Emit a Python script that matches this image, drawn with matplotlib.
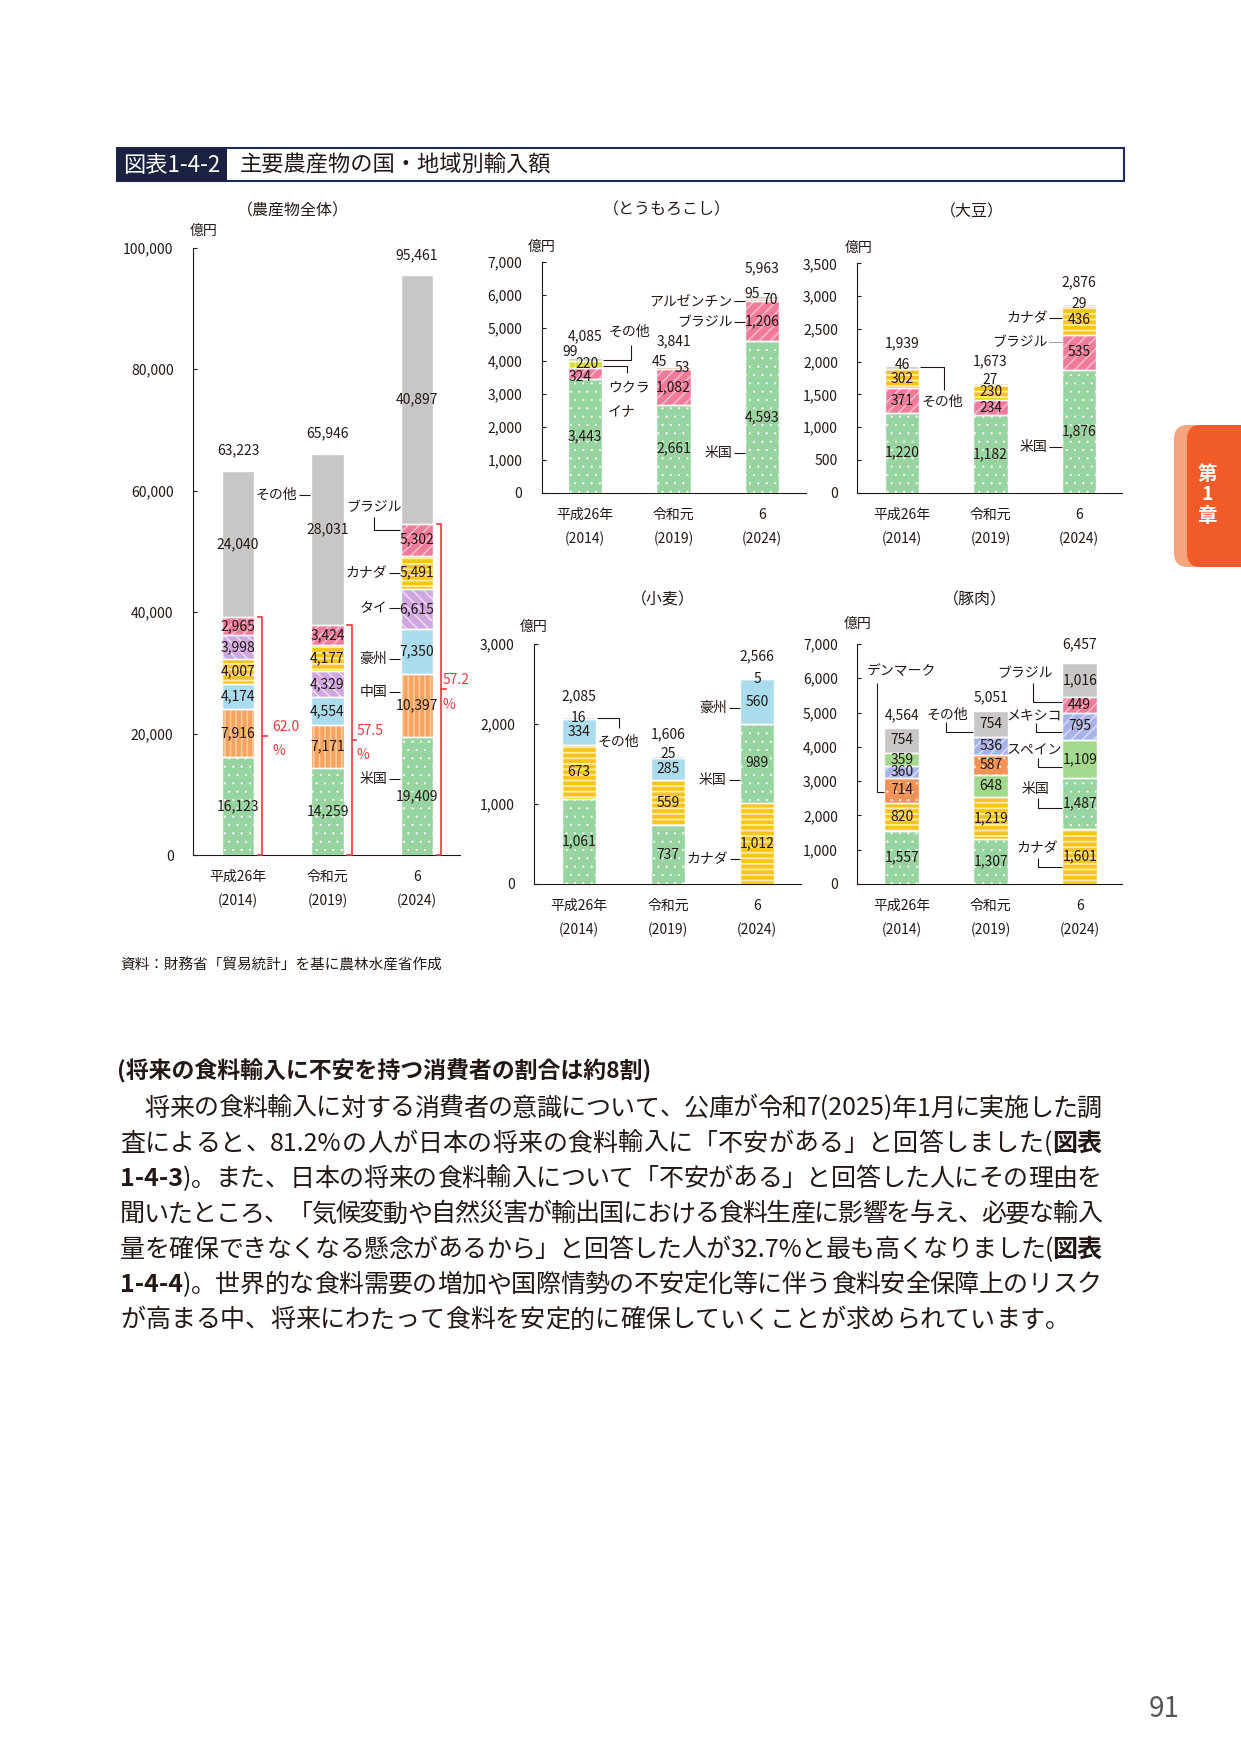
import numpy as np
import matplotlib as mpl
import matplotlib.pyplot as plt
from matplotlib.patches import Rectangle, FancyBboxPatch

plt.rcParams['font.family'] = ['Noto Sans CJK JP', 'DejaVu Sans']
plt.rcParams['hatch.linewidth'] = 1.3

W, H = 1241, 1754
INK = '#231815'
RED = '#e8383d'

years = ["平成26年", "令和元", "6"]
years_w = ["(2014)", "(2019)", "(2024)"]

# 農産物全体
all_countries = [["米国", "中国", "豪州", "カナダ", "タイ", "ブラジル", "その他"],
                 ["米国", "中国", "豪州", "タイ", "カナダ", "ブラジル", "その他"],
                 ["米国", "中国", "豪州", "タイ", "カナダ", "ブラジル", "その他"]]
all_values = [[16123, 7916, 4174, 4007, 3998, 2965, 24040],
              [14259, 7171, 4554, 4329, 4177, 3424, 28031],
              [19409, 10397, 7350, 6615, 5491, 5302, 40897]]
all_totals = [63223, 65946, 95461]

# とうもろこし
corn_countries = [["米国", "ブラジル", "ウクライナ", "その他"],
                  ["米国", "ブラジル", "アルゼンチン", "その他"],
                  ["米国", "ブラジル", "アルゼンチン", "その他"]]
corn_values = [[3443, 324, 220, 99],
               [2661, 1082, 53, 45],
               [4593, 1206, 70, 95]]
corn_totals = [4085, 3841, 5963]

# 大豆
soy_countries = [["米国", "ブラジル", "カナダ", "その他"]] * 3
soy_values = [[1220, 371, 302, 46],
              [1182, 234, 230, 27],
              [1876, 535, 436, 29]]
soy_totals = [1939, 1673, 2876]

# 小麦
wheat_countries = [["米国", "カナダ", "豪州", "その他"],
                   ["米国", "カナダ", "豪州", "その他"],
                   ["カナダ", "米国", "豪州", "その他"]]
wheat_values = [[1061, 673, 334, 16],
                [737, 559, 285, 25],
                [1012, 989, 560, 5]]
wheat_totals = [2085, 1606, 2566]

# 豚肉
pork_countries = [["米国", "カナダ", "デンマーク", "メキシコ", "スペイン", "その他"],
                  ["米国", "カナダ", "スペイン", "デンマーク", "メキシコ", "その他"],
                  ["カナダ", "米国", "スペイン", "メキシコ", "ブラジル", "その他"]]
pork_values = [[1557, 820, 714, 360, 359, 754],
               [1307, 1219, 648, 587, 536, 754],
               [1601, 1487, 1109, 795, 449, 1016]]
pork_totals = [4564, 5051, 6457]

# face colour, hatch colour, hatch, hatch width
STYLE = {
    "米国": ("#97d4a0", "white", "..", 0.3),
    "中国": ("#f5a35e", "#f9c896", "|||", 1.3),
    "豪州": ("#abdcee", None, None, 0),
    "カナダ": ("#f8c31c", "#fdeea0", "---", 1.3),
    "タイ": ("#cfa6df", "#ead8f2", "\\\\\\", 1.2),
    "ブラジル": ("#f07a9a", "#f8b8ca", "///", 1.2),
    "その他": ("#c8c7c5", None, None, 0),
    "ウクライナ": ("#d2dc3a", "#f5e663", "|||", 1.3),
    "アルゼンチン": ("#f08a4b", None, None, 0),
    "デンマーク": ("#f39256", "white", "..", 0.3),
    "メキシコ": ("#a7b3e8", "#d3daf6", "///", 1.2),
    "スペイン": ("#a3d98e", None, None, 0),
}

fig = plt.figure(figsize=(W / 100, H / 100), dpi=100)
fig.patch.set_facecolor('white')
bg = fig.add_axes([0, 0, 1, 1], zorder=-1)
bg.set_xlim(0, W)
bg.set_ylim(H, 0)
bg.axis('off')


def make_axes(l, r, b, t, ymax, step, c0, sp):
    ax = fig.add_axes([l / W, 1 - b / H, (r - l) / W, (b - t) / H])
    ax.set_facecolor('none')
    ax.set_xlim((l - c0) / sp, (r - c0) / sp)
    ax.set_ylim(0, ymax)
    ax.set_yticks(np.arange(0, ymax + 1, step))
    ax.yaxis.set_major_formatter(lambda v, p: f"{int(v):,}")
    ax.tick_params(axis='y', direction='in', length=3, width=0.8, pad=14,
                   labelsize=10, labelcolor=INK, color=INK)
    ax.set_xticks([])
    for s in ['top', 'right']:
        ax.spines[s].set_visible(False)
    for s in ['left', 'bottom']:
        ax.spines[s].set_color(INK)
        ax.spines[s].set_linewidth(0.8)
    for i in range(3):
        ax.annotate(years[i], (i, 0), xycoords=('data', 'axes fraction'), xytext=(0, -22),
                    textcoords='offset pixels', ha='center', va='center', fontsize=10, color=INK)
        ax.annotate(years_w[i], (i, 0), xycoords=('data', 'axes fraction'), xytext=(0, -46),
                    textcoords='offset pixels', ha='center', va='center', fontsize=10, color=INK)
    return ax


def stack(ax, countries, values, totals, width, tot_off, moved=None):
    moved = moved or {}
    for i in range(3):
        bottom = 0
        for c, v in zip(countries[i], values[i]):
            face, hcol, hatch, hlw = STYLE[c]
            ax.bar(i, v, width, bottom=bottom, color=face, linewidth=0, zorder=2)
            if hatch:
                with mpl.rc_context({'hatch.linewidth': hlw}):
                    bars = ax.bar(i, v, width, bottom=bottom, facecolor='none', edgecolor=hcol,
                                  linewidth=0, hatch=hatch, zorder=3)
                for p in bars:
                    if hasattr(p, 'set_hatch_linewidth'):
                        p.set_hatch_linewidth(hlw)
            ax.bar(i, v, width, bottom=bottom, facecolor='none', edgecolor='white',
                   linewidth=1.0, zorder=4)
            x, y = moved.get((i, c), (i, bottom + v / 2))
            ax.text(x, y, f"{v:,}", ha='center', va='center', fontsize=10, color=INK, zorder=5)
            bottom += v
        ax.annotate(f"{totals[i]:,}", (i, bottom), xytext=(0, tot_off[i]), textcoords='offset pixels',
                    ha='center', va='center', fontsize=10, color=INK)


def name(ax, x, y, s, ha='center'):
    ax.text(x, y, s, ha=ha, va='center', fontsize=10, color=INK, clip_on=False, zorder=6)


def leader(ax, xs, ys, color=INK):
    ax.plot(xs, ys, color=color, lw=0.8, clip_on=False, zorder=6, solid_capstyle='butt')


def dash_name(ax, xt, xb, y, s, color=INK):
    name(ax, xt, y, s, 'right')
    leader(ax, [xt + 0.02, xb], [y, y], color)


def fig_text(x, y, s, **kw):
    kw.setdefault('color', INK)
    kw.setdefault('va', 'center')
    bg.text(x, y, s, **kw)


# ---- 農産物全体
ax1 = make_axes(193, 460, 855, 247.5, 100000, 20000, 238, 89.5)
stack(ax1, all_countries, all_values, all_totals, 0.36, [21, 21, 20],
      moved={(1, "その他"): (1, 53613)})
name(ax1, 0.66, 59259, "その他", 'right')
leader(ax1, [0.68, 0.81], [59259, 59259])
name(ax1, 1.52, 57284, "ブラジル")
leader(ax1, [1.52, 1.52, 1.81], [55687, 53498, 53498])
for s, y in [("カナダ", 46370), ("タイ", 40609), ("豪州", 32263), ("中国", 26881), ("米国", 12461)]:
    dash_name(ax1, 1.665, 1.81, y, s)
pct_x = [0.38, 0.32, 0.29]
for i in range(3):
    top = sum(all_values[i][:6])
    xb = i + 0.27
    ax1.plot([xb - 0.05, xb, xb, xb - 0.05], [top, top, 0, 0], color=RED, lw=1.2, clip_on=False, zorder=6)
    ax1.plot([xb, xb + 0.05], [top / 2, top / 2], color=RED, lw=1.2, clip_on=False, zorder=6)
    pct = top / sum(all_values[i]) * 100
    ax1.text(i + pct_x[i], top / 2 + 1450, f"{pct:.1f}", color=RED, fontsize=10, ha='left', va='center', clip_on=False)
    ax1.text(i + pct_x[i], top / 2 - 2550, "%", color=RED, fontsize=10, ha='left', va='center', clip_on=False)

# ---- とうもろこし
ax2 = make_axes(541.7, 806, 492.7, 261.7, 7000, 1000, 585, 88.5)
stack(ax2, corn_countries, corn_values, corn_totals, 0.39, [22, 25, 28],
      moved={(0, "その他"): (-0.17, 4273), (0, "ウクライナ"): (0.02, 3891), (0, "ブラジル"): (-0.05, 3515),
             (1, "その他"): (0.84, 3970), (1, "アルゼンチン"): (1.10, 3770),
             (2, "その他"): (1.89, 6021), (2, "アルゼンチン"): (2.09, 5839)})
name(ax2, 0.50, 4879, "その他")
leader(ax2, [0.2, 0.516, 0.516], [4015, 4015, 4476])
name(ax2, 0.26, 3203, "ウクラ", 'left')
name(ax2, 0.26, 2476, "イナ", 'left')
leader(ax2, [0.2, 0.47, 0.47], [3839, 3839, 3636])
for s, y in [("アルゼンチン", 5809), ("ブラジル", 5182), ("米国", 1194)]:
    dash_name(ax2, 1.665, 1.805, y, s)

# ---- 大豆
ax3 = make_axes(857.3, 1122, 492.7, 263.3, 3500, 500, 902, 88.5)
stack(ax3, soy_countries, soy_values, soy_totals, 0.39, [22, 22, 22],
      moved={(0, "その他"): (0, 1948), (1, "その他"): (1, 1720), (2, "その他"): (2, 2879)})
name(ax3, 0.46, 1379, "その他")
leader(ax3, [0.2, 0.475, 0.475], [1913, 1913, 1567])
dash_name(ax3, 1.646, 1.805, 2670, "カナダ")
dash_name(ax3, 1.646, 1.805, 2295, "ブラジル", '#a0a0a0')
dash_name(ax3, 1.646, 1.805, 702, "米国")

# ---- 小麦
ax4 = make_axes(534.3, 801, 884, 644, 3000, 1000, 579, 89)
stack(ax4, wheat_countries, wheat_values, wheat_totals, 0.39, [21, 21, 22],
      moved={(0, "その他"): (0, 2079), (1, "その他"): (1, 1625), (2, "その他"): (2, 2562)})
name(ax4, 0.44, 1779, "その他")
leader(ax4, [0.2, 0.453, 0.453], [2071, 2071, 1954])
dash_name(ax4, 1.66, 1.805, 2196, "豪州")
dash_name(ax4, 1.66, 1.805, 1300, "米国")
dash_name(ax4, 1.68, 1.805, 309, "カナダ")

# ---- 豚肉
ax5 = make_axes(857.3, 1122, 884, 644, 7000, 1000, 901.7, 89)
stack(ax5, pork_countries, pork_values, pork_totals, 0.39, [12, 14, 18])
name(ax5, 0.0, 6220, "デンマーク")
leader(ax5, [-0.28, -0.28, -0.195], [5853, 2692, 2692])
name(ax5, 0.51, 4929, "その他")
leader(ax5, [0.494, 0.494, 0.805], [4733, 4441, 4441])
name(ax5, 1.385, 6145, "ブラジル")
leader(ax5, [1.479, 1.479, 1.805], [5853, 5299, 5299])
name(ax5, 1.49, 4899, "メキシコ")
leader(ax5, [1.506, 1.506, 1.805], [4687, 4441, 4441])
name(ax5, 1.49, 3879, "スペイン")
leader(ax5, [1.535, 1.535, 1.805], [3666, 3421, 3421])
name(ax5, 1.503, 2762, "米国")
leader(ax5, [1.528, 1.528, 1.805], [2499, 2208, 2208])
name(ax5, 1.526, 1041, "カナダ")
leader(ax5, [1.528, 1.528, 1.805], [749, 487, 487])

# ---- chart titles and units
for s, x, y in [("（農産物全体）", 293, 211), ("（とうもろこし）", 667, 210), ("（大豆）", 972, 212),
                ("（小麦）", 663, 600), ("（豚肉）", 975, 600)]:
    fig_text(x, y, s, fontsize=11.5, ha='center')
for x, y in [(190, 231), (528, 247), (845, 248), (520, 627), (844, 624)]:
    fig_text(x, y, "億円", fontsize=10, ha='left')

# ---- header box
bg.add_patch(Rectangle((117, 148), 1007, 33, fc='white', ec='#1d2a5c', lw=1.5))
bg.add_patch(Rectangle((117, 148), 110, 33, fc='#1b2240', ec='none'))
fig_text(172, 165, "図表1-4-2", fontsize=16, color='white', ha='center')
fig_text(240, 165, "主要農産物の国・地域別輸入額", fontsize=16, ha='left')

fig_text(120, 965, "資料：財務省「貿易統計」を基に農林水産省作成", fontsize=10.5, ha='left')

# ---- chapter tab
bg.add_patch(FancyBboxPatch((1174, 425), 120, 142, boxstyle="round,pad=0,rounding_size=14",
                            fc='#f6a47c', ec='none'))
bg.add_patch(FancyBboxPatch((1187, 425), 120, 142, boxstyle="round,pad=0,rounding_size=14",
                            fc='#f15a29', ec='none'))
for s, y in [("第", 474), ("1", 495), ("章", 517)]:
    fig_text(1207, y, s, fontsize=14, color='white', fontweight='bold', ha='center')

fig_text(1164, 1709, "91", fontsize=20, color='#555555', ha='center')

# ---- body text
renderer = fig.canvas.get_renderer()


def text_line(segs, y, size, justify=True, x0=120, x1=1102):
    toks = []
    for s, bold in segs:
        buf = ''
        for ch in s:
            if ord(ch) < 128:
                buf += ch
                continue
            if buf:
                toks.append((buf, bold))
                buf = ''
            toks.append((ch, bold))
        if buf:
            toks.append((buf, bold))
    arts = [bg.text(0, y, t, fontsize=size, fontweight='bold' if b else 'normal',
                    color=INK, va='baseline', ha='left') for t, b in toks]
    widths = [a.get_window_extent(renderer).width for a in arts]
    gap = (x1 - x0 - sum(widths)) / (len(arts) - 1) if justify else 0
    x = x0
    for a, w in zip(arts, widths):
        a.set_x(x)
        x += w + gap


bg.text(117, 1078, "(将来の食料輸入に不安を持つ消費者の割合は約8割)", fontsize=16.5,
        fontweight='bold', color=INK, va='baseline', ha='left')

body = [
    [("　将来の食料輸入に対する消費者の意識について、公庫が令和7(2025)年1月に実施した調", False)],
    [("査によると、81.2%の人が日本の将来の食料輸入に「不安がある」と回答しました(", False), ("図表", True)],
    [("1-4-3", True), (")。また、日本の将来の食料輸入について「不安がある」と回答した人にその理由を", False)],
    [("聞いたところ、「気候変動や自然災害が輸出国における食料生産に影響を与え、必要な輸入", False)],
    [("量を確保できなくなる懸念があるから」と回答した人が32.7%と最も高くなりました(", False), ("図表", True)],
    [("1-4-4", True), (")。世界的な食料需要の増加や国際情勢の不安定化等に伴う食料安全保障上のリスク", False)],
    [("が高まる中、将来にわたって食料を安定的に確保していくことが求められています。", False)],
]
for k, segs in enumerate(body):
    text_line(segs, 1106 + 35.3 * k + 9.5, 18, justify=(k < len(body) - 1))

fig.savefig('out.png', dpi=100)
